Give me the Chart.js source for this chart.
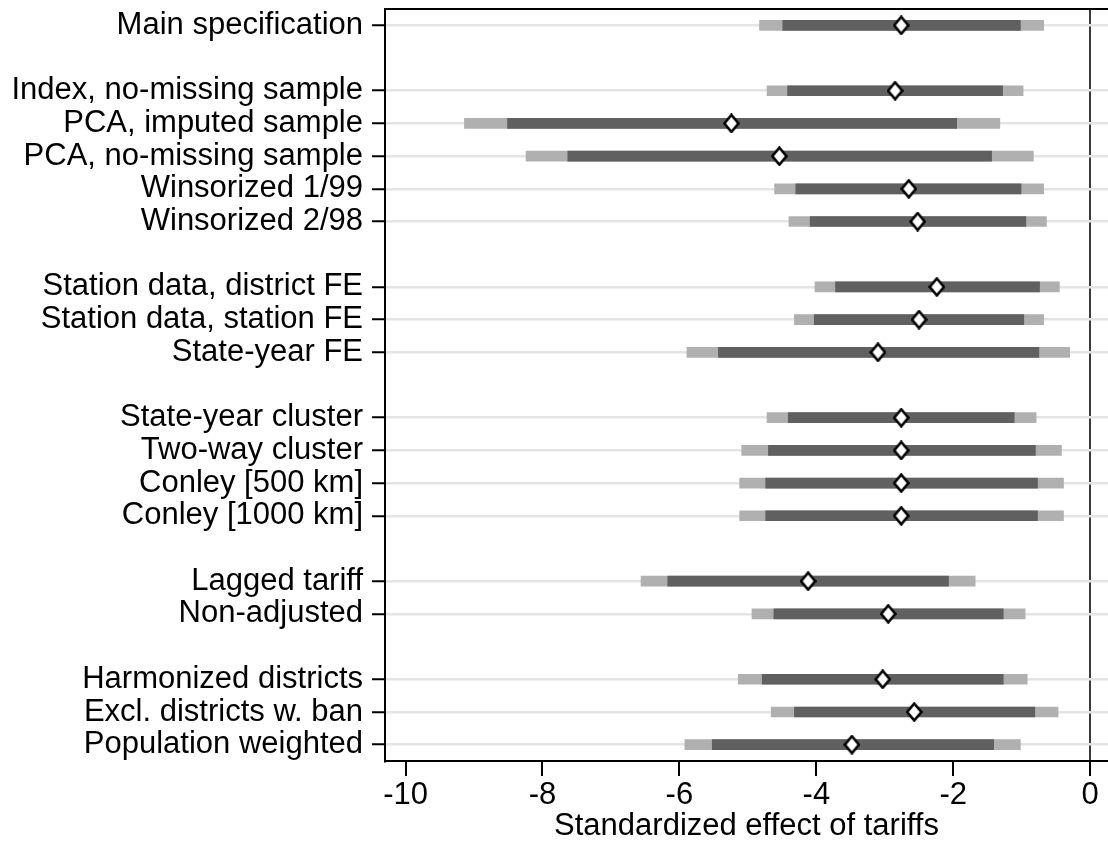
<!DOCTYPE html>
<html>
<head>
<meta charset="utf-8">
<script src="https://cdn.jsdelivr.net/npm/chart.js@4/dist/chart.umd.min.js"></script>
<style>
  html, body { margin: 0; padding: 0; background: #fff; }
  #wrap { width: 1108px; height: 844px; }
</style>
</head>
<body>
<div id="wrap"><canvas id="c" width="1108" height="844"></canvas></div>
<script>
// Specification labels ('' = spacer row)
const labels = [
  'Main specification', '',
  'Index, no-missing sample', 'PCA, imputed sample', 'PCA, no-missing sample',
  'Winsorized 1/99', 'Winsorized 2/98', '',
  'Station data, district FE', 'Station data, station FE', 'State-year FE', '',
  'State-year cluster', 'Two-way cluster', 'Conley [500 km]', 'Conley [1000 km]', '',
  'Lagged tariff', 'Non-adjusted', '',
  'Harmonized districts', 'Excl. districts w. ban', 'Population weighted'
];
// Point estimates
const estimate = [-2.76, null, -2.85, -5.24, -4.54, -2.65, -2.52, null,
  -2.24, -2.50, -3.10, null, -2.76, -2.76, -2.76, -2.76, null,
  -4.12, -2.95, null, -3.03, -2.57, -3.48];
// 90% confidence interval
const lo90 = [-4.49, null, -4.42, -8.51, -7.63, -4.30, -4.09, null,
  -3.72, -4.03, -5.43, null, -4.41, -4.70, -4.74, -4.74, null,
  -6.17, -4.62, null, -4.79, -4.32, -5.52];
const hi90 = [-1.02, null, -1.28, -1.95, -1.44, -1.01, -0.94, null,
  -0.74, -0.97, -0.75, null, -1.11, -0.80, -0.77, -0.77, null,
  -2.07, -1.27, null, -1.27, -0.81, -1.41];
// 95% confidence interval
const lo95 = [-4.83, null, -4.72, -9.14, -8.24, -4.61, -4.40, null,
  -4.02, -4.32, -5.89, null, -4.72, -5.09, -5.12, -5.12, null,
  -6.56, -4.94, null, -5.14, -4.66, -5.92];
const hi95 = [-0.68, null, -0.98, -1.32, -0.83, -0.68, -0.64, null,
  -0.45, -0.68, -0.30, null, -0.79, -0.42, -0.39, -0.39, null,
  -1.68, -0.95, null, -0.92, -0.47, -1.02];
// x-axis ticks
const xTicks = [-10, -8, -6, -4, -2, 0];
const xTitle = 'Standardized effect of tariffs';

const FONT = '"Liberation Sans", Arial, Helvetica, sans-serif';

// diamond marker
function makeDiamond() {
  const w = 17, h = 20;
  const cv = document.createElement('canvas');
  cv.width = w; cv.height = h;
  const g = cv.getContext('2d');
  g.beginPath();
  g.moveTo(w / 2, 1.5);
  g.lineTo(w - 1.5, h / 2);
  g.lineTo(w / 2, h - 1.5);
  g.lineTo(1.5, h / 2);
  g.closePath();
  g.fillStyle = '#ffffff';
  g.fill();
  g.lineWidth = 2.6;
  g.strokeStyle = '#000000';
  g.lineJoin = 'miter';
  g.stroke();
  return cv;
}

const pair = (a, b) => a.map((v, i) => (v === null ? null : [v, b[i]]));

function noPad(scale) {
  scale.paddingLeft = 0;
  scale.paddingRight = 0;
  scale.paddingTop = 0;
  scale.paddingBottom = 0;
}

const topBorder = {
  id: 'topBorder',
  afterDraw(chart) {
    const { ctx, chartArea } = chart;
    ctx.save();
    ctx.strokeStyle = '#000';
    ctx.lineWidth = 2;
    ctx.beginPath();
    ctx.moveTo(chartArea.left, chartArea.top);
    ctx.lineTo(chart.width, chartArea.top);
    ctx.stroke();
    ctx.restore();
  }
};

new Chart(document.getElementById('c'), {
  type: 'bar',
  data: {
    labels: labels,
    datasets: [
      {
        type: 'line',
        data: estimate,
        showLine: false,
        pointStyle: makeDiamond(),
        pointRadius: 8,
        clip: false,
        order: 0
      },
      {
        data: pair(lo90, hi90),
        backgroundColor: '#606060',
        barThickness: 10,
        grouped: false,
        borderSkipped: false,
        order: 1
      },
      {
        data: pair(lo95, hi95),
        backgroundColor: '#b0b0b0',
        barThickness: 10,
        grouped: false,
        borderSkipped: false,
        order: 2
      }
    ]
  },
  options: {
    indexAxis: 'y',
    responsive: false,
    devicePixelRatio: 1,
    animation: false,
    events: [],
    layout: { autoPadding: false, padding: { top: 9, left: 0, right: 0, bottom: 0 } },
    plugins: { legend: { display: false }, tooltip: { enabled: false } },
    scales: {
      x: {
        type: 'linear',
        min: -10.30,
        max: 0.26,
        afterBuildTicks: (scale) => { scale.ticks = xTicks.map(v => ({ value: v })); },
        afterFit: (scale) => { scale.height = 83; noPad(scale); },
        border: { display: true, color: '#000', width: 2 },
        grid: {
          drawOnChartArea: true,
          color: (ctx) => (ctx.tick && ctx.tick.value === 0 ? '#3a3a3a' : 'rgba(0,0,0,0)'),
          lineWidth: 2,
          tickColor: '#000',
          tickWidth: 2,
          tickLength: 15
        },
        ticks: {
          color: '#000',
          font: { family: FONT, size: 31 },
          padding: 1,
          maxRotation: 0,
          callback: (v) => String(v)
        },
        title: {
          display: true,
          text: xTitle,
          color: '#000',
          font: { family: FONT, size: 31 },
          padding: { top: 0, bottom: -1 }
        }
      },
      y: {
        type: 'category',
        offset: true,
        afterFit: (scale) => { scale.width = 385; noPad(scale); },
        border: { display: true, color: '#000', width: 2 },
        grid: {
          offset: false,
          color: (ctx) => (ctx.tick && ctx.tick.label !== '' ? '#e4e4e4' : 'rgba(0,0,0,0)'),
          lineWidth: 2.5,
          tickColor: (ctx) => (ctx.tick && ctx.tick.label !== '' ? '#000' : 'rgba(0,0,0,0)'),
          tickWidth: 2,
          tickLength: 13
        },
        ticks: {
          color: '#000',
          font: { family: FONT, size: 31 },
          padding: 9,
          autoSkip: false
        }
      }
    }
  },
  plugins: [topBorder]
});
</script>
</body>
</html>
